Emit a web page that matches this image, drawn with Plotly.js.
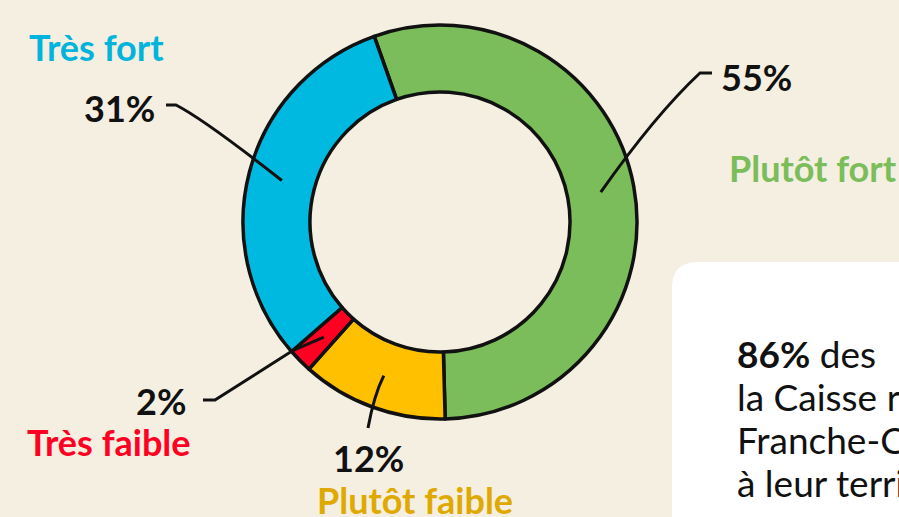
<!DOCTYPE html>
<html>
<head>
<meta charset="utf-8">
<script src="https://cdn.plot.ly/plotly-3.0.1.min.js"></script>
<style>html,body{margin:0;padding:0;background:#f4efe1;}#chart{width:899px;height:517px;}</style>
</head>
<body>
<div id="chart"></div>
<script>
// Data
const categories = ["Plutôt fort", "Plutôt faible", "Très faible", "Très fort"];
const values = [55, 12, 2, 31];
const pctLabels = ["55%", "12%", "2%", "31%"];
const sliceColors = ["#7abd5a", "#ffc000", "#ff0022", "#00b9e0"];
const nameColors = ["#7abd5a", "#dfa900", "#ff0022", "#00b4dc"];
const boxLines = ["<b>86%</b> des", "la Caisse régionale", "Franche-Comté", "à leur territoire"];

const W = 899, H = 517;
const px = x => x / W;
const py = y => 1 - y / H;

// Donut geometry (layout)
const cx = 440, cy = 222, R = 197;
const rotation = -19.5;
const total = values.reduce((a, b) => a + b, 0);

// mid angle of each slice (degrees clockwise from top)
const mids = [];
let acc = rotation;
values.forEach(v => { const a = v / total * 360; mids.push(acc + a / 2); acc += a; });
const inner = mids.map(a => {
  const t = a * Math.PI / 180;
  return [cx + 0.83 * R * Math.sin(t), cy - 0.83 * R * Math.cos(t)];
});

// label placement (style)
const place = [
  {px: 719, py: 77, pa: "left", nx: 727, ny: 168, na: "left", lead: (e) => `M${px(712)},${py(73)} L${px(700)},${py(73)} Q${px(655)},${py(115)} ${px(e[0])},${py(e[1])}`},
  {px: 368, py: 458, pa: "center", nx: 415, ny: 500, na: "center", lead: (e) => `M${px(368)},${py(428)} Q${px(374)},${py(395)} ${px(e[0])},${py(e[1])}`},
  {px: 188, py: 401, pa: "right", nx: 193, ny: 442, na: "right", lead: (e) => `M${px(203)},${py(400)} L${px(215)},${py(400)} L${px(292)},${py(351)} L${px(e[0])},${py(e[1])}`},
  {px: 157, py: 108, pa: "right", nx: 166, ny: 47, na: "right", lead: (e) => `M${px(166)},${py(105)} L${px(176)},${py(105)} Q${px(205)},${py(120)} ${px(e[0])},${py(e[1])}`}
];

const FONT = "Lato, 'Open Sans', sans-serif";
const annotations = [];
const shapes = [];

// text box
const bx0 = 672, by0 = 262, bx1 = 940, by1 = 560, rr = 26;
shapes.push({
  type: "path", xref: "paper", yref: "paper", layer: "below",
  path: `M${px(bx0 + rr)},${py(by0)} L${px(bx1)},${py(by0)} L${px(bx1)},${py(by1)} L${px(bx0)},${py(by1)} L${px(bx0)},${py(by0 + rr)} Q${px(bx0)},${py(by0)} ${px(bx0 + rr)},${py(by0)} Z`,
  fillcolor: "#ffffff", line: {width: 0}
});

categories.forEach((c, i) => {
  const p = place[i];
  annotations.push({xref: "paper", yref: "paper", x: px(p.px), y: py(p.py), xanchor: p.pa, yanchor: "middle",
    text: "<b>" + pctLabels[i] + "</b>", showarrow: false, font: {family: FONT, size: 36, color: "#111111"}});
  annotations.push({xref: "paper", yref: "paper", x: px(p.nx), y: py(p.ny), xanchor: p.na, yanchor: "middle",
    text: "<b>" + c + "</b>", showarrow: false, font: {family: FONT, size: 36, color: nameColors[i]}});
  shapes.push({type: "path", xref: "paper", yref: "paper", path: p.lead(inner[i]),
    line: {color: "#111111", width: 3}});
});

boxLines.forEach((t, i) => {
  annotations.push({xref: "paper", yref: "paper", x: px(735), y: py(353 + i * 43), xanchor: "left", yanchor: "middle",
    text: t, showarrow: false, font: {family: FONT, size: 37, color: "#111111"}});
});

const trace = {
  type: "pie",
  labels: categories,
  values: values,
  sort: false,
  direction: "clockwise",
  rotation: rotation,
  hole: 0.66,
  textinfo: "none",
  hoverinfo: "none",
  marker: {colors: sliceColors, line: {color: "#111111", width: 3.5}},
  domain: {x: [px(cx - R), px(cx + R)], y: [py(cy + R), py(cy - R)]},
  showlegend: false
};

const layout = {
  width: W, height: H,
  margin: {l: 0, r: 0, t: 0, b: 0},
  paper_bgcolor: "#f4efe1",
  plot_bgcolor: "#f4efe1",
  showlegend: false,
  annotations: annotations,
  shapes: shapes
};

Plotly.newPlot("chart", [trace], layout, {displayModeBar: false, staticPlot: true});
</script>
</body>
</html>
